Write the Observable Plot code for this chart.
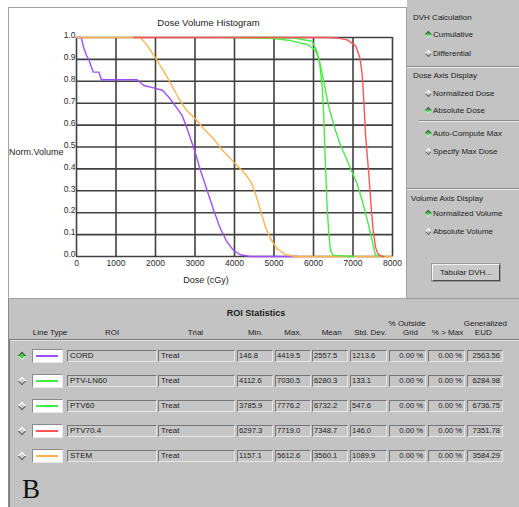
<!DOCTYPE html>
<html><head><meta charset="utf-8">
<script src="https://cdn.jsdelivr.net/npm/d3@7"></script>
<script src="https://cdn.jsdelivr.net/npm/@observablehq/plot@0.6"></script>
<style>
html,body{margin:0;padding:0;background:#fff;}
#root{position:relative;width:519px;height:507px;overflow:hidden;font-family:"Liberation Sans",Arial,Helvetica,sans-serif;color:#1c1c1c;}
.abs{position:absolute;white-space:nowrap;}
</style></head>
<body><div id="root"></div>
<script>
// ---------- data ----------
const xTicks = [0, 1000, 2000, 3000, 4000, 5000, 6000, 7000, 8000];
const yTicks = [0, 0.1, 0.2, 0.3, 0.4, 0.5, 0.6, 0.7, 0.8, 0.9, 1.0];

const cordDose = [0, 120, 185, 253, 312, 422, 565, 633, 1536, 1705, 1958, 2185, 2338, 2464, 2675, 2802, 2903, 2990, 3139, 3308, 3476, 3646, 3815, 3983, 4152, 4363, 4419, 5600];
const cordVol  = [1, 1, 0.952, 0.918, 0.898, 0.842, 0.842, 0.807, 0.807, 0.781, 0.770, 0.758, 0.727, 0.697, 0.644, 0.583, 0.530, 0.484, 0.393, 0.301, 0.210, 0.126, 0.065, 0.027, 0.008, 0.001, 0, 0];

const stemDose = [0, 1157, 1620, 1790, 2043, 2296, 2549, 2759, 2970, 3223, 3476, 3670, 3983, 4152, 4300, 4420, 4532, 4650, 4785, 4911, 5080, 5291, 5544, 8000];
const stemVol  = [1, 1, 1, 0.964, 0.895, 0.819, 0.735, 0.674, 0.636, 0.583, 0.537, 0.490, 0.431, 0.400, 0.370, 0.340, 0.286, 0.215, 0.134, 0.081, 0.035, 0.009, 0, 0];

const ptv60Dose = [3785, 4600, 4995, 5418, 5840, 6051, 6135, 6220, 6388, 6557, 6680, 6853, 6995, 7105, 7232, 7342, 7426, 7502, 7570, 7776];
const ptv60Vol  = [1, 0.998, 0.995, 0.986, 0.968, 0.941, 0.903, 0.834, 0.682, 0.575, 0.510, 0.438, 0.378, 0.332, 0.256, 0.180, 0.119, 0.058, 0.005, 0];

const ln60Dose = [4112, 5000, 5502, 5966, 6076, 6160, 6220, 6262, 6285, 6312, 6346, 6388, 6430, 6498, 7030];
const ln60Vol  = [1, 1, 0.998, 0.983, 0.941, 0.880, 0.773, 0.636, 0.500, 0.378, 0.225, 0.104, 0.027, 0.005, 0];

const ptv704Dose = [1450, 6297, 6600, 6853, 7063, 7172, 7232, 7274, 7316, 7342, 7400, 7460, 7511, 7570, 7629, 7738, 7780];
const ptv704Vol  = [1, 1, 0.998, 0.989, 0.963, 0.910, 0.834, 0.712, 0.560, 0.500, 0.378, 0.225, 0.119, 0.043, 0.012, 0, 0];

const roiNames   = ["CORD", "PTV-LN60", "PTV60", "PTV70.4", "STEM"];
const trialNames = ["Treat", "Treat", "Treat", "Treat", "Treat"];
const minDose    = [146.8, 4112.6, 3785.9, 6297.3, 1157.1];
const maxDose    = [4419.5, 7030.5, 7776.2, 7719.0, 5612.6];
const meanDose   = [2557.5, 6280.3, 6732.2, 7348.7, 3560.1];
const stdDev     = [1213.6, 133.1, 547.6, 146.0, 1089.9];
const pctOutside = [0, 0, 0, 0, 0];
const pctOverMax = [0, 0, 0, 0, 0];
const genEUD     = [2563.56, 6284.98, 6736.75, 7351.78, 3584.29];

const radioLabels = ["Cumulative", "Differential", "Normalized Dose", "Absolute Dose", "Auto-Compute Max", "Specify Max Dose", "Normalized Volume", "Absolute Volume"];
const radioOn     = [true, false, false, true, true, false, true, false];
const sectionTitles = ["DVH Calculation", "Dose Axis Display", "Volume Axis Display"];

// ---------- styles ----------
const roiColor = {"CORD": "#a24cff", "PTV-LN60": "#46ec46", "PTV60": "#46ec46", "PTV70.4": "#ff5252", "STEM": "#ffb24a"};
const PANEL = "#c3c3c3";

const root = document.getElementById("root");
function box(x, y, w, h, css) {
  const d = document.createElement("div");
  d.className = "abs";
  d.style.left = x + "px"; d.style.top = y + "px";
  d.style.width = w + "px"; d.style.height = h + "px";
  d.style.boxSizing = "border-box";
  Object.assign(d.style, css || {});
  root.appendChild(d);
  return d;
}
function txt(x, cy, s, size, anchor, css) {
  const d = document.createElement("div");
  d.className = "abs";
  const lh = size * 1.2;
  d.style.fontSize = size + "px";
  d.style.lineHeight = lh + "px";
  d.style.top = (cy - lh / 2) + "px";
  d.style.left = x + "px";
  if (anchor === "middle") d.style.transform = "translateX(-50%)";
  if (anchor === "end") d.style.transform = "translateX(-100%)";
  d.textContent = s;
  Object.assign(d.style, css || {});
  root.appendChild(d);
  return d;
}
function diamond(cx, cy, diag, on) {
  const s = diag / Math.SQRT2;
  const d = box(cx - s / 2, cy - s / 2, s, s, {
    transform: "rotate(45deg)",
    background: on ? "#3ad83a" : "#cfcfcf",
    border: "1px solid",
    borderColor: on ? "#4a4a4a #e8e8e8 #e8e8e8 #4a4a4a" : "#ffffff #5a5a5a #5a5a5a #ffffff"
  });
  return d;
}

// ---------- panels ----------
box(407, 0, 112, 298, {background: PANEL});
box(8, 298, 511, 209, {background: PANEL, borderLeft: "1px solid #8a8a8a", borderTop: "1px solid #9a9a9a"});

// ---------- plot ----------
function pts(name, ds, vs) { return ds.map((d, i) => ({roi: name, dose: d, vol: vs[i]})); }
const series = [
  pts("CORD", cordDose, cordVol),
  pts("STEM", stemDose, stemVol),
  pts("PTV60", ptv60Dose, ptv60Vol),
  pts("PTV-LN60", ln60Dose, ln60Vol),
  pts("PTV70.4", ptv704Dose, ptv704Vol)
];
const gridStyle = {stroke: "#404040", strokeOpacity: 1, strokeWidth: 1.6};
const chart = Plot.plot({
  width: 399, height: 291,
  marginLeft: 68, marginRight: 15, marginTop: 30, marginBottom: 42,
  style: {background: "white", fontFamily: "'Liberation Sans', Arial, sans-serif", fontSize: "8.5px", color: "#2a2a2a", overflow: "visible"},
  x: {domain: [0, 8000]},
  y: {domain: [0, 1]},
  marks: [
    Plot.gridX(xTicks, gridStyle),
    Plot.gridY(yTicks, gridStyle),
    Plot.axisX(xTicks, {tickSize: 0, tickPadding: 3, tickFormat: d => String(d), label: null}),
    Plot.axisY(yTicks, {tickSize: 0, tickPadding: 1, dy: -2, tickFormat: d3.format(".1f"), label: null}),
    ...series.map(s => Plot.line(s, {x: "dose", y: "vol", stroke: roiColor[s[0].roi], strokeWidth: 1.4}))
  ]
});
chart.style.position = "absolute";
chart.style.left = "8px";
chart.style.top = "7px";
root.appendChild(chart);
box(8, 7, 399, 292, {border: "1px solid #a2a2a2", pointerEvents: "none"});

txt(208.5, 23, "Dose Volume Histogram", 9.5, "middle");
txt(9, 152, "Norm.Volume", 9, "start");
txt(206, 280.7, "Dose (cGy)", 9, "middle");

// ---------- right control panel ----------
function etched(x, y, w) {
  box(x, y, w, 1, {background: "#8c8c8c"});
  box(x, y + 1, w, 1, {background: "#ececec"});
}
etched(407, 66, 112);
etched(419, 120, 100);
etched(407, 188, 112);
const titleY = [17.3, 75.7, 198.3];
sectionTitles.forEach((t, i) => txt(i === 2 ? 411 : 413, titleY[i], t, 8, "start"));
const radioY = [34.5, 53.3, 93.3, 110.7, 133.3, 151.7, 213.3, 231.7];
radioLabels.forEach((t, i) => {
  diamond(428, radioY[i], 6.5, radioOn[i]);
  txt(433, radioY[i], t, 8, "start");
});
const btn = box(432, 264, 68, 17, {background: "#c9c9c9", border: "1px solid", borderColor: "#f4f4f4 #4a4a4a #4a4a4a #f4f4f4", boxShadow: "0 0 0 1px #9a9a9a"});
txt(466, 272.5, "Tabular DVH...", 8, "middle");

// ---------- ROI statistics ----------
txt(256, 313.3, "ROI Statistics", 9, "middle", {fontWeight: "bold"});
const hdr1 = 324, hdr2 = 332.3;
txt(50, hdr2, "Line Type", 8, "middle");
txt(112, hdr2, "ROI", 8, "middle");
txt(195.5, hdr2, "Trial", 8, "middle");
txt(255.5, hdr2, "Min.", 8, "middle");
txt(293, hdr2, "Max.", 8, "middle");
txt(331.7, hdr2, "Mean", 8, "middle");
txt(370.3, hdr2, "Std. Dev.", 8, "middle");
txt(407, hdr1, "% Outside", 8, "middle");
txt(410.5, hdr2, "Grid", 8, "middle");
txt(447.5, hdr2, "% > Max", 8, "middle");
txt(485.3, hdr1, "Generalized", 8, "middle");
txt(483.3, hdr2, "EUD", 8, "middle");

// table frame
box(9, 339, 510, 1, {background: "#7c7c7c"});
box(9, 340, 510, 1, {background: "#e2e2e2"});
box(9, 339, 1, 168, {background: "#7c7c7c"});

const fieldCss = {background: "#c6c6c6", border: "1px solid", borderColor: "#767676 #e6e6e6 #e6e6e6 #767676"};
const cols = {
  roi: [67, 157], trial: [158, 235], min: [237, 273], max: [275, 311], mean: [312, 348],
  std: [350, 387], out: [389, 426], over: [428, 465], eud: [467, 503]
};
roiNames.forEach((name, i) => {
  const top = 350 + 25 * i, h = 11.5, cy = top + h / 2;
  diamond(22, cy, 8.5, i === 0);
  box(32, top - 1, 31, 13.5, {background: "#ffffff", border: "1px solid", borderColor: "#8a8a8a #e8e8e8 #e8e8e8 #8a8a8a"});
  box(36, cy - 0.6, 22, 1.4, {background: roiColor[name]});
  const cells = [
    ["roi", name, "l"], ["trial", trialNames[i], "l"],
    ["min", minDose[i].toFixed(1), "l"], ["max", maxDose[i].toFixed(1), "l"],
    ["mean", meanDose[i].toFixed(1), "l"], ["std", stdDev[i].toFixed(1), "l"],
    ["out", pctOutside[i].toFixed(2) + " %", "r"], ["over", pctOverMax[i].toFixed(2) + " %", "r"],
    ["eud", genEUD[i].toFixed(2), "r"]
  ];
  cells.forEach(([k, s, al]) => {
    const [x0, x1] = cols[k];
    box(x0, top, x1 - x0, h, fieldCss);
    const isNum = k !== "roi" && k !== "trial";
    const size = isNum ? 7.6 : 8;
    if (al === "l") txt(x0 + (isNum ? 2 : 3), cy + 0.3, s, size, "start");
    else txt(x1 - 3, cy + 0.3, s, size, "end");
  });
});

txt(22, 489, "B", 27, "start", {fontFamily: "'Liberation Serif', 'Times New Roman', serif", color: "#111"});
</script>
</body></html>
